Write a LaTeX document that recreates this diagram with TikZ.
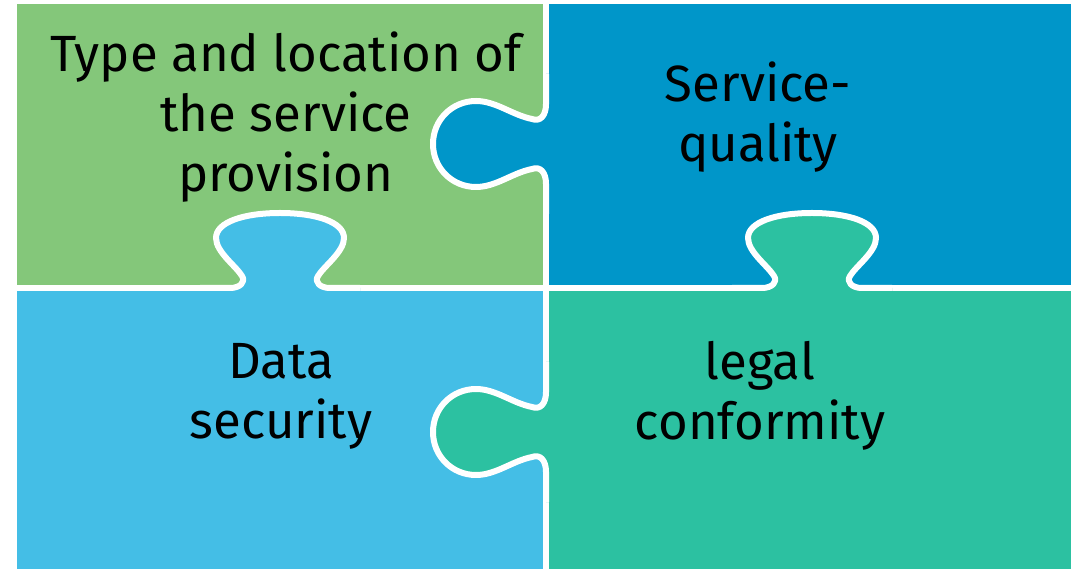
\documentclass[tikz,border=0pt]{standalone}
\usepackage{fontspec}
\setmainfont{Fira Sans}
\usetikzlibrary{calc}

\definecolor{pzgreen}{RGB}{132,199,122}
\definecolor{pzblue}{RGB}{0,150,201}
\definecolor{pzsky}{RGB}{68,190,230}
\definecolor{pzteal}{RGB}{44,193,161}

% knob outlines, centred on the seam, pointing to negative y
\newcommand{\knobside}{(-70,0) -- (-40,0) .. controls (-28,0) and (-22,-6) .. (-25,-14) .. controls (-29,-34) and (-43,-50) .. (-43,-70) .. controls (-43,-94) and (-24,-113) .. (0,-113) .. controls (24,-113) and (43,-94) .. (43,-70) .. controls (43,-50) and (29,-34) .. (25,-14) .. controls (22,-6) and (28,0) .. (40,0) -- (70,0)}
\newcommand{\knobup}{(-80,0) -- (-50,0) .. controls (-40,0) and (-34,-6) .. (-38,-12) .. controls (-44,-22) and (-64,-36) .. (-64,-50) .. controls (-64,-66) and (-36,-75) .. (0,-75) .. controls (36,-75) and (64,-66) .. (64,-50) .. controls (64,-36) and (44,-22) .. (38,-12) .. controls (34,-6) and (40,0) .. (50,0) -- (80,0)}

\begin{document}
\begin{tikzpicture}[x=0.1mm, y=-0.1mm,
    seam/.style={white, line width=0.6mm, line join=round},
    piecetext/.style={font=\fontsize{14.5}{17.1}\selectfont, align=center, inner sep=0pt}]
    \useasboundingbox (0,0) rectangle (1071,569);

    % the four pieces
    \fill[pzgreen] (17,4) rectangle (546,288);
    \fill[pzblue] (546,4) rectangle (1071,288);
    \fill[pzsky] (17,288) rectangle (546,569);
    \fill[pzteal] (546,288) rectangle (1071,569);

    % straight seams
    \draw[seam] (546,4) -- (546,569);
    \draw[seam] (17,288) -- (1071,288);

    % knobs pointing left
    \begin{scope}[shift={(546,144)}, rotate=90]
        \fill[pzblue] \knobside -- (70,10) -- (-70,10) -- cycle;
        \draw[seam] \knobside;
    \end{scope}
    \begin{scope}[shift={(546,432)}, rotate=90]
        \fill[pzteal] \knobside -- (70,10) -- (-70,10) -- cycle;
        \draw[seam] \knobside;
    \end{scope}

    % knobs pointing up
    \begin{scope}[shift={(280,288)}]
        \fill[pzsky] \knobup -- (80,10) -- (-80,10) -- cycle;
        \draw[seam] \knobup;
    \end{scope}
    \begin{scope}[shift={(812,288)}]
        \fill[pzteal] \knobup -- (80,10) -- (-80,10) -- cycle;
        \draw[seam] \knobup;
    \end{scope}

    % labels
    \node[piecetext] (provision) at (286,117) {Type and location of\\the service\\provision};
    \node[piecetext] (quality) at (758,117) {Service-\\quality};
    \node[piecetext] (security) at (281,396) {Data\\security};
    \node[piecetext] (conformity) at (760,396) {legal\\conformity};
\end{tikzpicture}
\end{document}
